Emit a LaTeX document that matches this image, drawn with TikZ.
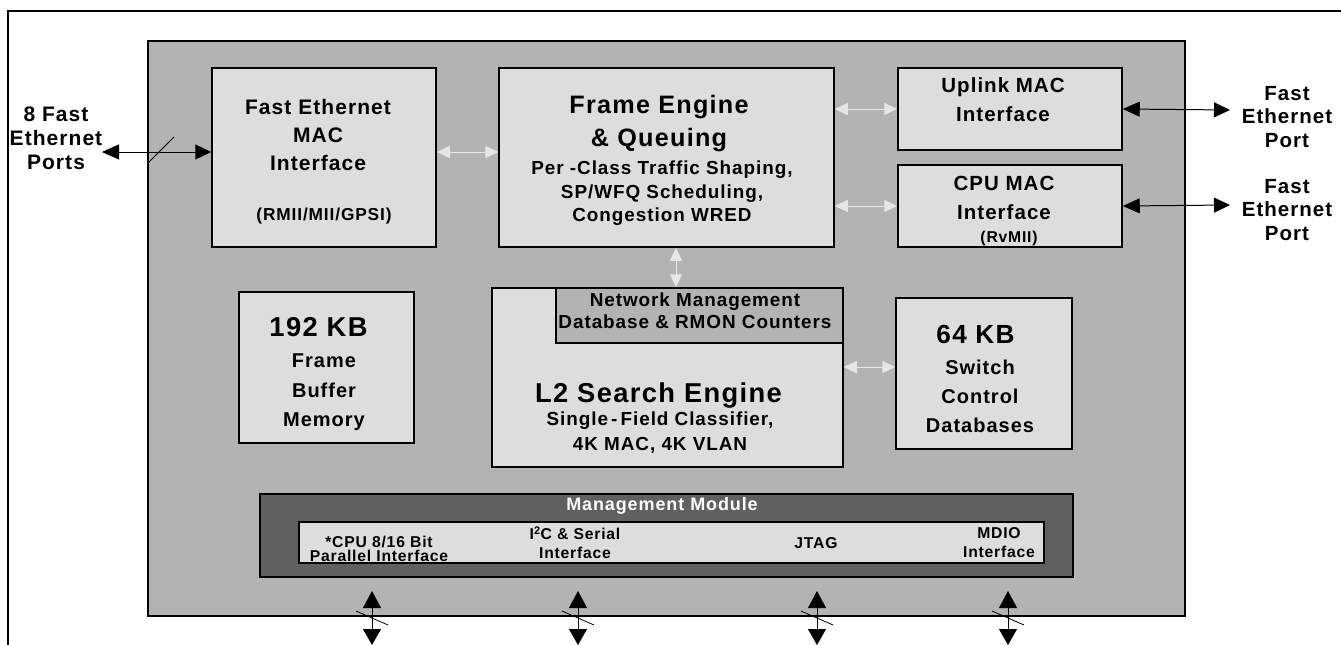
\documentclass[tikz,border=0pt]{standalone}
\usepackage{fontspec}
\setmainfont[LetterSpace=5]{Liberation Sans}
\usetikzlibrary{arrows.meta}

\definecolor{chipgray}{HTML}{B3B3B3}
\definecolor{boxgray}{HTML}{DDDDDD}
\definecolor{mgmtgray}{HTML}{606060}
\definecolor{linkgray}{HTML}{E6E6E6}
\newcommand{\fsz}[2]{\fontsize{#1}{#2}\selectfont\bfseries}

\begin{document}
\begin{tikzpicture}[x=1pt,y=-1pt,
  box/.style={draw,line width=1.5pt,fill=boxgray,inner sep=0pt},
  txt/.style={align=center,inner sep=0pt},
  garrow/.style={draw=linkgray,line width=1pt,{Triangle[length=13pt,width=12pt]}-{Triangle[length=13pt,width=12pt]}},
  parrow/.style={line width=1pt,{Triangle[length=17pt,width=15pt]}-{Triangle[length=16pt,width=15pt]}},
  barrow/.style={line width=1pt,{Triangle[length=17pt,width=18pt]}-{Triangle[length=16pt,width=18pt]}}]
\useasboundingbox (0,0) rectangle (1341,645);
\draw[line width=2pt] (8,645) -- (8,11) -- (1341,11);

% chip and blocks
\node[draw,line width=1.2pt,fill=chipgray,minimum width=1037pt,minimum height=575pt] (chip) at (666.5,328.5) {};
\node[box,minimum width=224pt,minimum height=179pt] (femac) at (324,157.5) {};
\node[box,minimum width=335pt,minimum height=179pt] (fengine) at (666.5,157.5) {};
\node[box,minimum width=224pt,minimum height=82pt] (uplink) at (1010,109) {};
\node[box,minimum width=224pt,minimum height=82pt] (cpumac) at (1010,206) {};
\node[box,minimum width=175pt,minimum height=151pt] (fbuf) at (326.5,367.5) {};
\node[box,minimum width=351pt,minimum height=179pt] (lsearch) at (667.5,377.5) {};
\node[box,fill=chipgray,minimum width=287pt,minimum height=55pt] (netmgmt) at (699.5,315.5) {};
\node[box,minimum width=176pt,minimum height=151pt] (swctl) at (984,373.5) {};
\node[box,fill=mgmtgray,minimum width=813pt,minimum height=83pt] (mgmt) at (666.5,535.5) {};
\node[box,minimum width=745pt,minimum height=41pt] (mgmtbar) at (671.5,542.5) {};

% labels
\node[txt,font={\fsz{21}{28}}] (femactxt) at (318,135) {Fast Ethernet\\MAC\\Interface};
\node[txt,font={\fsz{17.3}{20}}] (femacsub) at (324,216) {(RMII/MII/GPSI)};
\node[txt,font={\fsz{25.2}{33}}] (fenginetxt) at (659,124) {Frame Engine\\\& Queuing};
\node[txt,font={\fsz{18.9}{23.5}}] (fenginesub) at (662,193.5) {Per -Class Traffic Shaping,\\SP/WFQ Scheduling,\\Congestion WRED};
\node[txt,font={\fsz{20.5}{29}}] (uplinktxt) at (1003,100) {Uplink MAC\\Interface};
\node[txt,font={\fsz{20.5}{29}}] (cpumactxt) at (1004,197.5) {CPU MAC\\Interface};
\node[txt,font={\fsz{15.7}{18}}] (cpumacsub) at (1009,238) {(RvMII)};
\node[txt,font={\fsz{27.3}{30}}] (fbuftxt) at (318.5,327.5) {192 KB};
\node[txt,font={\fsz{20}{29.5}}] (fbufsub) at (324,392.5) {Frame\\Buffer\\Memory};
\node[txt,font={\fsz{18.9}{22}}] (netmgmttxt) at (695,311) {Network Management\\Database \& RMON Counters};
\node[txt,font={\fsz{27.3}{30}}] (lsearchtxt) at (658.5,395) {L2 Search Engine};
\node[txt,font={\fsz{18.9}{25}}] (lsearchsub) at (660,432.5) {Single\,-\,Field Classifier,\\4K MAC, 4K VLAN};
\node[txt,font={\fsz{26.2}{30}}] (swctltxt) at (975.5,334) {64 KB};
\node[txt,font={\fsz{20}{29}}] (swctlsub) at (980,396) {Switch\\Control\\Databases};
\node[txt,font={\fsz{18}{20}},text=white] (mgmttxt) at (662,505.5) {Management Module};
\node[txt,font={\fsz{15.7}{14.5}}] (cputxt) at (379,549) {*CPU 8/16 Bit\\Parallel Interface};
\node[txt,font={\fsz{15.7}{19}}] (iictxt) at (575,542.5) {I\textsuperscript{2}C \& Serial\\Interface};
\node[txt,font={\fsz{15.7}{19}}] (jtagtxt) at (816,543.5) {JTAG};
\node[txt,font={\fsz{15.7}{19}}] (mdiotxt) at (999,543) {MDIO\\Interface};
\node[txt,font={\fsz{21}{24}}] (portLtxt) at (56,138.5) {8 Fast\\Ethernet\\Ports};
\node[txt,font={\fsz{20.5}{23.5}}] (portUtxt) at (1287,117) {Fast\\Ethernet\\Port};
\node[txt,font={\fsz{20.5}{23.5}}] (portCtxt) at (1287,210) {Fast\\Ethernet\\Port};

% internal links
\draw[garrow] ([yshift=5.5pt]femac.east) -- ([yshift=5.5pt]fengine.west);
\draw[garrow] (fengine.east |- uplink.west) -- (uplink.west);
\draw[garrow] (fengine.east |- cpumac.west) -- (cpumac.west);
\draw[garrow] ([xshift=9.5pt]fengine.south) -- ([xshift=9.5pt]fengine.south |- lsearch.north);
\draw[garrow] ([yshift=6.5pt]swctl.west -| lsearch.east) -- ([yshift=6.5pt]swctl.west);

% ports
\coordinate (portLend) at (102,152);
\coordinate (portUend) at (1230,110);
\coordinate (portCend) at (1230,205);
\draw[parrow] (portLend) -- ([yshift=5.5pt]femac.west);
\draw[line width=0.8pt] (148,163) -- (174,137);
\draw[parrow] (uplink.east) -- (portUend);
\draw[parrow] (cpumac.east) -- (portCend);

% management buses
\foreach \x/\n in {372/cpu,578/iic,817/jtag,1008/mdio}{
  \coordinate (\n top) at (\x,591);
  \coordinate (\n bot) at (\x,645);
  \draw[barrow] (\n top) -- (\n bot);
  \draw[line width=0.8pt] (\x-16,611) -- (\x+16,625);
}
\end{tikzpicture}
\end{document}
